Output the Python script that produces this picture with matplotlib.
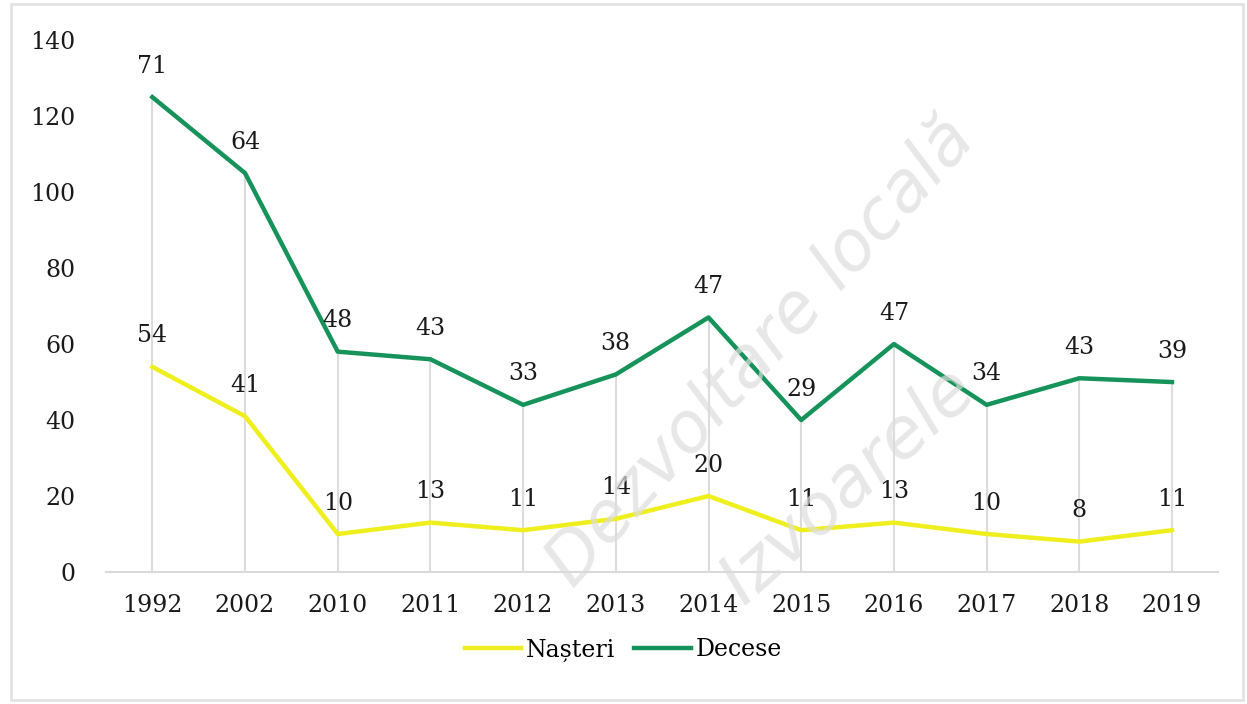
import numpy as np
import matplotlib
matplotlib.use("Agg")
import matplotlib.pyplot as plt

years = ['1992', '2002', '2010', '2011', '2012', '2013', '2014', '2015', '2016', '2017', '2018', '2019']
nasteri = [54, 41, 10, 13, 11, 14, 20, 11, 13, 10, 8, 11]
decese = [71, 64, 48, 43, 33, 38, 47, 29, 47, 34, 43, 39]
yticks = [0, 20, 40, 60, 80, 100, 120, 140]

plt.rcParams['font.family'] = ['DejaVu Serif']

x = np.arange(len(years))
n = np.array(nasteri)
d_stacked = n + np.array(decese)  # stacked line chart

fig = plt.figure(figsize=(12.47, 7.04), dpi=100)
ax = fig.add_axes([0.085, 0.1875, 0.892, 0.7555])

# drop lines
ax.vlines(x, 0, d_stacked, color='#dcdcdc', lw=1.5, zorder=1)

yellow = '#efef1e'
green = '#16935a'
ax.plot(x, n, color=yellow, lw=3.2, label='Nașteri', zorder=3, solid_joinstyle='round')
ax.plot(x, d_stacked, color=green, lw=3.2, label='Decese', zorder=3, solid_joinstyle='round')

for xi, yi, v in zip(x, n, nasteri):
    ax.annotate(str(v), (xi, yi), xytext=(0, 14), textcoords='offset points',
                ha='center', va='bottom', fontsize=17, color='#1a1a1a', zorder=4)
for xi, yi, v in zip(x, d_stacked, decese):
    ax.annotate(str(v), (xi, yi), xytext=(0, 14), textcoords='offset points',
                ha='center', va='bottom', fontsize=17, color='#1a1a1a', zorder=4)

ax.set_xlim(-0.5, len(years) - 0.5)
ax.set_ylim(0, 140)
ax.set_xticks(x)
ax.set_xticklabels(years)
ax.set_yticks(yticks)
ax.tick_params(axis='both', length=0, labelsize=17, colors='#1a1a1a')
ax.tick_params(axis='y', pad=22)
ax.tick_params(axis='x', pad=16)
for s in ['top', 'right', 'left']:
    ax.spines[s].set_visible(False)
ax.spines['bottom'].set_color('#d9d9d9')
ax.spines['bottom'].set_linewidth(1.5)

leg = ax.legend(loc='upper center', bbox_to_anchor=(0.465, -0.085), ncol=2, frameon=False,
                fontsize=17, handlelength=2.4, handletextpad=0.2, columnspacing=0.8)

# watermark
fig.text(0.61, 0.50, 'Dezvoltare locală', rotation=48, fontsize=50, style='italic',
         family='DejaVu Sans', color='#dddddd', alpha=0.7, ha='center', va='center', zorder=5)
fig.text(0.68, 0.31, 'Izvoarele', rotation=42, fontsize=50, style='italic',
         family='DejaVu Sans', color='#dddddd', alpha=0.7, ha='center', va='center', zorder=5)

# outer frame
fig.patches.append(plt.Rectangle((0.009, 0.005), 0.988, 0.99, transform=fig.transFigure,
                                 fill=False, edgecolor='#e3e3e3', lw=2))

fig.savefig('out.png', dpi=100)
